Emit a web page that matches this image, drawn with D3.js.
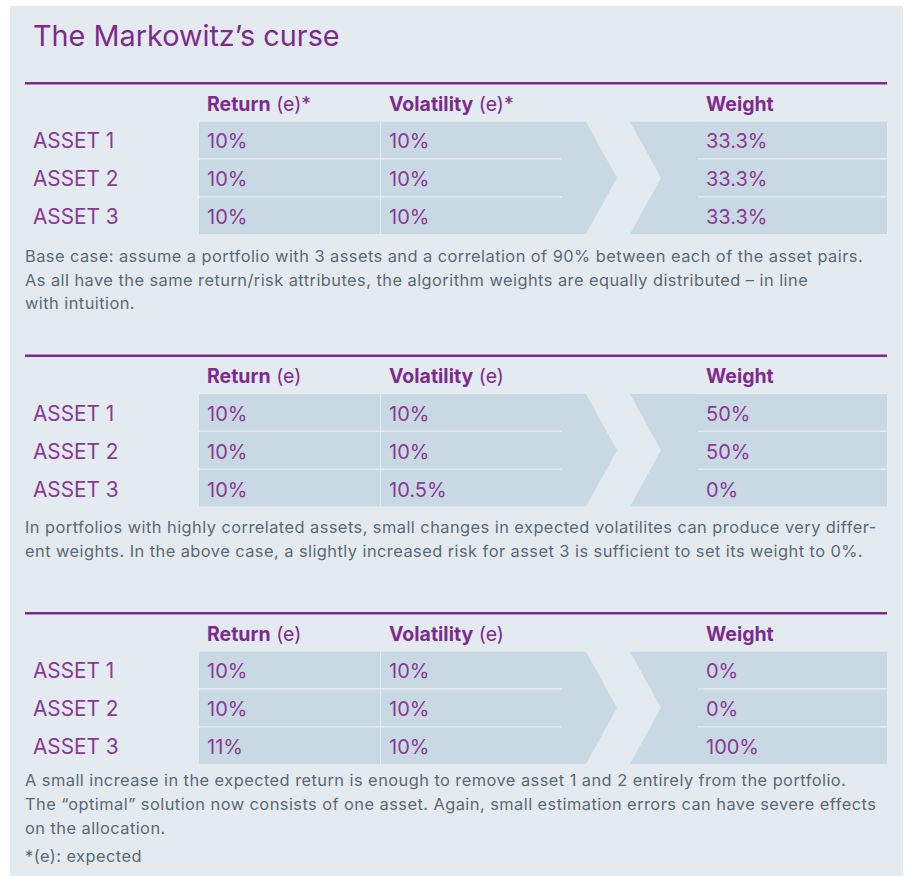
<!DOCTYPE html>
<html>
<head>
<meta charset="utf-8">
<script src="https://cdn.jsdelivr.net/npm/d3@7"></script>
<style>
  html, body { margin: 0; padding: 0; background: #ffffff; }
  svg { display: block; font-family: Inter, "Open Sans", sans-serif; }
</style>
</head>
<body>
<div id="chart"></div>
<script>
// ---- data ----
var title = "The Markowitz\u2019s curse";
var assets = ["ASSET 1", "ASSET 2", "ASSET 3"];
var columnNames = ["Return", "Volatility", "Weight"];
// suffix after the bold header word, per table
var headerSuffixes = [["(e)*", "(e)*", ""], ["(e)", "(e)", ""], ["(e)", "(e)", ""]];
// values in percent, per table, per asset
var returns = [[10, 10, 10], [10, 10, 10], [10, 10, 11]];
var volatilities = [[10, 10, 10], [10, 10, 10.5], [10, 10, 10]];
var weights = [[33.3, 33.3, 33.3], [50, 50, 0], [0, 0, 100]];
var captions = [
    ["Base case: assume a portfolio with 3 assets and a correlation of 90% between each of the asset pairs.",
     "As all have the same return/risk attributes, the algorithm weights are equally distributed \u2013 in line",
     "with intuition."],
    ["In portfolios with highly correlated assets, small changes in expected volatilites can produce very differ-",
     "ent weights. In the above case, a slightly increased risk for asset 3 is sufficient to set its weight to 0%."],
    ["A small increase in the expected return is enough to remove asset 1 and 2 entirely from the portfolio.",
     "The \u201coptimal\u201d solution now consists of one asset. Again, small estimation errors can have severe effects",
     "on the allocation."]
];
var footnote = "*(e): expected";

// ---- layout ----
var WIDTH = 908, HEIGHT = 877;
var PURPLE = "#7e2a8c";
var TEXT_PURPLE = "#8a3896";
var BG = "#e3ebf1";
var CELL = "#c9d9e3";
var GRAY = "#5c6871";

// y of each table's top rule
var tableTops = [83.3, 355.7, 613.3];
// gap from the cells' bottom to the first caption baseline
var captionGaps = [28, 26.8, 22.5];
var CELL_OFFSET = 38.4;   // rule to first cell
var CELLS_HEIGHT = 112.3;
var LINE_HEIGHT = 23.6;
var CAPTION_SIZE = 16.4, CAPTION_SPACING = 0.45;

// column edges, in pixels
var x = {
    rule0: 25, label: 33,
    ret0: 199, ret1: 380,
    vol0: 381, vol1: 562, arrowTop: 586, arrowTip: 617,
    chev0: 630, chevNotch: 661, wt0: 698, right: 887
};
var TEXT_PAD = 8;

var fmt = function(v) { return v + "%"; };

var svg = d3.select("#chart").append("svg")
    .attr("width", WIDTH)
    .attr("height", HEIGHT);

svg.append("rect")
    .attr("x", 10).attr("y", 6)
    .attr("width", 893).attr("height", 870)
    .attr("fill", BG);

svg.append("text")
    .attr("x", 33).attr("y", 45.7)
    .attr("font-size", 28.8)
    .attr("fill", PURPLE)
    .text(title);

var yRow = d3.scaleBand()
    .domain(assets)
    .range([CELL_OFFSET, CELL_OFFSET + CELLS_HEIGHT])
    .paddingInner(0.04);

tableTops.forEach(function(top, t) {
    var g = svg.append("g").attr("transform", "translate(0," + top + ")");
    var cTop = CELL_OFFSET, cBot = CELL_OFFSET + CELLS_HEIGHT, cMid = (cTop + cBot) / 2;

    g.append("line")
        .attr("x1", x.rule0).attr("x2", x.right)
        .attr("y1", 0).attr("y2", 0)
        .attr("stroke", PURPLE).attr("stroke-width", 2.4);

    // header
    var headerX = [x.ret0 + TEXT_PAD, x.vol0 + TEXT_PAD, x.wt0 + TEXT_PAD];
    columnNames.forEach(function(name, c) {
        var h = g.append("text")
            .attr("x", headerX[c]).attr("y", 27.4)
            .attr("font-size", 19.5)
            .attr("fill", PURPLE);
        h.append("tspan").attr("font-weight", 700).text(name);
        if (headerSuffixes[t][c]) {
            h.append("tspan").attr("font-weight", 400).text(" " + headerSuffixes[t][c]);
        }
    });

    // arrow head of the input block, and tail of the weight block
    g.append("path")
        .attr("d", d3.line()([[x.vol1, cTop], [x.arrowTop, cTop], [x.arrowTip, cMid],
            [x.arrowTop, cBot], [x.vol1, cBot]]) + "Z")
        .attr("fill", CELL);
    g.append("path")
        .attr("d", d3.line()([[x.chev0, cTop], [x.wt0, cTop], [x.wt0, cBot],
            [x.chev0, cBot], [x.chevNotch, cMid]]) + "Z")
        .attr("fill", CELL);

    var rows = g.selectAll("g.row")
        .data(assets.map(function(a, i) {
            return {asset: a, ret: returns[t][i], vol: volatilities[t][i], wt: weights[t][i]};
        }))
        .enter().append("g")
        .attr("class", "row")
        .attr("transform", function(d) { return "translate(0," + yRow(d.asset) + ")"; });

    var bw = yRow.bandwidth();
    rows.append("rect").attr("x", x.ret0).attr("width", x.ret1 - x.ret0).attr("height", bw).attr("fill", CELL);
    rows.append("rect").attr("x", x.vol0).attr("width", x.vol1 - x.vol0 + 0.5).attr("height", bw).attr("fill", CELL);
    rows.append("rect").attr("x", x.wt0 - 0.5).attr("width", x.right - x.wt0 + 0.5).attr("height", bw).attr("fill", CELL);

    var baseline = 26.6;
    var cellText = function(xPos, accessor, size) {
        rows.append("text")
            .attr("x", xPos).attr("y", baseline)
            .attr("font-size", size || 20)
            .attr("fill", TEXT_PURPLE)
            .text(accessor);
    };
    cellText(x.label, function(d) { return d.asset; }, 20.8);
    cellText(x.ret0 + TEXT_PAD, function(d) { return fmt(d.ret); });
    cellText(x.vol0 + TEXT_PAD, function(d) { return fmt(d.vol); });
    cellText(x.wt0 + TEXT_PAD, function(d) { return fmt(d.wt); });

    // caption below the table
    var capTop = cBot + captionGaps[t];
    g.selectAll("text.caption")
        .data(captions[t])
        .enter().append("text")
        .attr("class", "caption")
        .attr("x", 25)
        .attr("y", function(d, i) { return capTop + i * LINE_HEIGHT; })
        .attr("font-size", CAPTION_SIZE)
        .attr("letter-spacing", CAPTION_SPACING)
        .attr("fill", GRAY)
        .text(function(d) { return d; });
});

svg.append("text")
    .attr("x", 25).attr("y", 862)
    .attr("font-size", CAPTION_SIZE)
    .attr("letter-spacing", CAPTION_SPACING)
    .attr("fill", GRAY)
    .text(footnote);
</script>
</body>
</html>
